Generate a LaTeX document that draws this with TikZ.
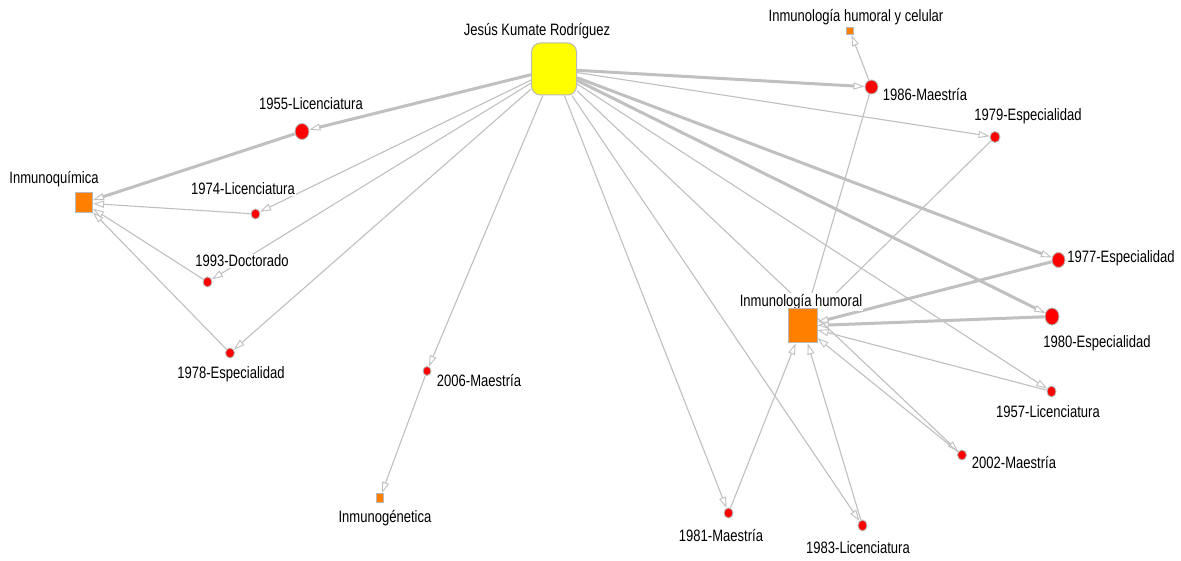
\documentclass[tikz,border=0pt]{standalone}
\usepackage{fontspec}
\setmainfont{Liberation Sans}[FakeStretch=0.79]
\usetikzlibrary{arrows.meta,shapes.geometric}
\definecolor{edgegray}{RGB}{192,192,192}
\definecolor{rimgray}{RGB}{185,185,185}
\definecolor{areaorange}{RGB}{255,128,0}
\definecolor{degreered}{RGB}{255,0,0}
\definecolor{personyellow}{RGB}{255,255,0}
% white page underneath, then links, labels, and shapes on top
\pgfdeclarelayer{paper}
\pgfdeclarelayer{links}
\pgfdeclarelayer{labels}
\pgfsetlayers{paper,links,labels,main}
\tikzset{
  link/.style={draw=edgegray, line width=1.1pt,
    -{Triangle[open,length=11pt,width=7pt,line width=0.9pt]}},
  heavylink/.style={link, line width=3pt},
  degree/.style={ellipse, draw=rimgray, line width=0.9pt, fill=degreered,
    inner sep=0pt},
  area/.style={rectangle, draw=rimgray, line width=1pt, fill=areaorange,
    inner sep=0pt},
  person/.style={rectangle, rounded corners=9pt, draw=rimgray, line width=1pt,
    fill=personyellow, inner sep=0pt, minimum width=45pt, minimum height=52pt},
  tag/.style={fill=white, inner sep=1pt, font=\fontsize{16.5}{18}\selectfont,
    text=black}
}
\begin{document}
\begin{tikzpicture}[x=1pt,y=-1pt]
\begin{pgfonlayer}{paper}
\fill[white] (0,0) rectangle (1181,561);
\end{pgfonlayer}
\useasboundingbox (0,0) rectangle (1181,561);

% person, areas and degrees
\node[person] (jk) at (554,69) {};
\node[area, minimum width=17pt, minimum height=20pt] (iq) at (84,203) {};
\node[area, minimum width=7pt, minimum height=9pt] (ig) at (380,498) {};
\node[area, minimum width=7pt, minimum height=7pt] (ihc) at (850,31) {};
\node[area, minimum width=29pt, minimum height=34pt] (ih) at (802.5,326) {};
\node[degree, minimum width=14pt, minimum height=16pt] (l55) at (302,131.5) {};
\node[degree, minimum width=9pt, minimum height=10pt] (l74) at (255.5,214) {};
\node[degree, minimum width=9pt, minimum height=10pt] (d93) at (207.5,282) {};
\node[degree, minimum width=9pt, minimum height=10pt] (e78) at (230,353) {};
\node[degree, minimum width=8pt, minimum height=9pt] (m06) at (427,371) {};
\node[degree, minimum width=13pt, minimum height=14pt] (m86) at (871.5,87) {};
\node[degree, minimum width=10pt, minimum height=11pt] (e79) at (995,137) {};
\node[degree, minimum width=13pt, minimum height=15pt] (e77) at (1058.5,260) {};
\node[degree, minimum width=14pt, minimum height=17pt] (e80) at (1052,316.5) {};
\node[degree, minimum width=9pt, minimum height=11pt] (l57) at (1051.5,391.5) {};
\node[degree, minimum width=9pt, minimum height=10pt] (m02) at (962,455) {};
\node[degree, minimum width=9pt, minimum height=10pt] (m81) at (728.5,513) {};
\node[degree, minimum width=9pt, minimum height=11pt] (l83) at (862.5,525.5) {};

\begin{pgfonlayer}{links}
% from the person to each degree
\draw[heavylink] (jk) -- (l55);
\draw[link] (jk) -- (l74);
\draw[link] (jk) -- (d93);
\draw[link] (jk) -- (e78);
\draw[link] (jk) -- (m06);
\draw[link] (jk) -- (m81);
\draw[link] (jk) -- (l83);
\draw[link] (jk) -- (m02);
\draw[link] (jk) -- (l57);
\draw[heavylink] (jk) -- (e80);
\draw[heavylink] (jk) -- (e77);
\draw[link] (jk) -- (e79);
\draw[heavylink] (jk) -- (m86);
% from each degree to its area
\draw[heavylink] (l55) -- (iq);
\draw[link] (l74) -- (iq);
\draw[link] (d93) -- (iq);
\draw[link] (e78) -- (iq);
\draw[link] (m06) -- (ig);
\draw[link] (m86) -- (ihc);
\draw[link] (m86) -- (ih);
\draw[link] (e79) -- (ih);
\draw[heavylink] (e77) -- (ih);
\draw[heavylink] (e80) -- (ih);
\draw[link] (l57) -- (ih);
\draw[link] (m02) -- (ih);
\draw[link] (l83) -- (ih);
\draw[link] (m81) -- (ih);
\end{pgfonlayer}

\begin{pgfonlayer}{labels}
\node[tag] (tjk)  at (537,31)  {Jesús Kumate Rodríguez};
\node[tag] (tiq)  at (54,179)  {Inmunoquímica};
\node[tag] (tig)  at (385,518) {Inmunogénetica};
\node[tag] (tihc) at (856,17)  {Inmunología humoral y celular};
\node[tag] (tih)  at (801,302) {Inmunología humoral};
\node[tag] (tl55) at (311,104) {1955-Licenciatura};
\node[tag] (tl74) at (243,189) {1974-Licenciatura};
\node[tag] (td93) at (242,261) {1993-Doctorado};
\node[tag] (te78) at (231,374) {1978-Especialidad};
\node[tag] (tm06) at (479,381) {2006-Maestría};
\node[tag] (tm86) at (925,95)  {1986-Maestría};
\node[tag] (te79) at (1028,116) {1979-Especialidad};
\node[tag] (te77) at (1121,258) {1977-Especialidad};
\node[tag] (te80) at (1097,343) {1980-Especialidad};
\node[tag] (tl57) at (1048,412) {1957-Licenciatura};
\node[tag] (tm02) at (1014,463) {2002-Maestría};
\node[tag] (tm81) at (721,536) {1981-Maestría};
\node[tag] (tl83) at (858,548) {1983-Licenciatura};
\end{pgfonlayer}
\end{tikzpicture}
\end{document}
